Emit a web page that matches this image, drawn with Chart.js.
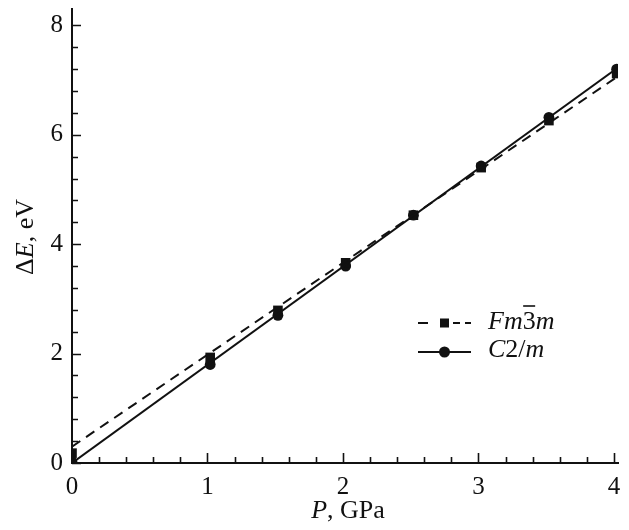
<!DOCTYPE html>
<html>
<head>
<meta charset="utf-8">
<script src="https://cdn.jsdelivr.net/npm/chart.js@4"></script>
<style>
  html, body { margin: 0; padding: 0; background: #fff; }
  #wrap { width: 629px; height: 530px; }
</style>
</head>
<body>
<div id="wrap"><canvas id="mycanvas" width="629" height="530"></canvas></div>
<script>
// pressure (GPa) and energy difference (eV)
var pressure = [0, 1.02, 1.52, 2.02, 2.52, 3.02, 3.52, 4.02];
var dE_Fm3m = [0.18, 1.93, 2.79, 3.66, 4.53, 5.40, 6.26, 7.12];
var dE_C2m = [0.02, 1.80, 2.70, 3.60, 4.53, 5.43, 6.32, 7.20];

// fitted straight lines (end points)
var fitP = [0, 4.03];
var fit_Fm3m = [0.30, 7.07];
var fit_C2m = [0, 7.23];

var xTicks = [0, 1, 2, 3, 4];
var yTicks = [0, 2, 4, 6, 8];

function pts(xs, ys) {
  var out = [];
  for (var i in xs) out.push({x: xs[i], y: ys[i]});
  return out;
}

var serif = "'Liberation Serif', 'Times New Roman', serif";

// inward ticks, axis titles and legend
var extras = {
  id: 'extras',
  afterDraw: function(chart) {
    var ctx = chart.ctx;
    var xs = chart.scales.x, ys = chart.scales.y;
    var area = chart.chartArea;
    ctx.save();
    ctx.strokeStyle = '#111';
    ctx.lineWidth = 1.6;
    ctx.beginPath();
    for (var i = 0; i <= 20; i++) {
      var v = i * 0.2;
      var px = Math.round(xs.getPixelForValue(v)) + 0.5;
      var len = (i % 5 === 0) ? 10 : 6;
      ctx.moveTo(px, area.bottom);
      ctx.lineTo(px, area.bottom - len);
    }
    for (var j = 0; j <= 20; j++) {
      var w = j * 0.4;
      var py = Math.round(ys.getPixelForValue(w)) + 0.5;
      var l2 = (j % 5 === 0) ? 9 : 6;
      ctx.moveTo(area.left, py);
      ctx.lineTo(area.left + l2, py);
    }
    ctx.stroke();

    ctx.fillStyle = '#111';
    ctx.textBaseline = 'alphabetic';

    // x title: P, GPa
    var f1 = 'italic 26px ' + serif, f2 = '26px ' + serif;
    ctx.font = f1; var wP = ctx.measureText('P').width;
    ctx.font = f2; var wR = ctx.measureText(', GPa').width;
    var sx = 348 - (wP + wR) / 2;
    ctx.font = f1; ctx.fillText('P', sx, 518);
    ctx.font = f2; ctx.fillText(', GPa', sx + wP, 518);

    // y title: ΔE, eV
    ctx.save();
    ctx.translate(33, 237);
    ctx.rotate(-Math.PI / 2);
    ctx.font = f2; var wD = ctx.measureText('\u0394').width;
    ctx.font = f1; var wE = ctx.measureText('E').width;
    ctx.font = f2; var wV = ctx.measureText(', eV').width;
    var tx = -(wD + wE + wV) / 2;
    ctx.font = f2; ctx.fillText('\u0394', tx, 0);
    ctx.font = f1; ctx.fillText('E', tx + wD, 0);
    ctx.font = f2; ctx.fillText(', eV', tx + wD + wE, 0);
    ctx.restore();

    // legend
    var lx0 = 418, lx1 = 471, ly1 = 323, ly2 = 352;
    ctx.lineWidth = 2;
    ctx.beginPath();
    ctx.moveTo(lx0, ly1); ctx.lineTo(lx0 + 10, ly1);
    ctx.moveTo(lx0 + 35, ly1); ctx.lineTo(lx0 + 42, ly1);
    ctx.moveTo(lx0 + 47, ly1); ctx.lineTo(lx1, ly1);
    ctx.moveTo(lx0, ly2); ctx.lineTo(lx1, ly2);
    ctx.stroke();
    ctx.fillRect(440, ly1 - 4.5, 9, 9);
    ctx.beginPath();
    ctx.arc(444.5, ly2, 5.5, 0, Math.PI * 2);
    ctx.fill();

    var tx0 = 488;
    ctx.font = f1; ctx.fillText('Fm', tx0, ly1 + 6);
    var a = ctx.measureText('Fm').width;
    ctx.font = f2; ctx.fillText('3', tx0 + a, ly1 + 6);
    var b = ctx.measureText('3').width;
    ctx.lineWidth = 1.6;
    ctx.beginPath();
    ctx.moveTo(tx0 + a + 0.5, ly1 - 17);
    ctx.lineTo(tx0 + a + b - 0.5, ly1 - 17);
    ctx.stroke();
    ctx.font = f1; ctx.fillText('m', tx0 + a + b, ly1 + 6);

    ctx.font = f1; ctx.fillText('C', tx0, ly2 + 5);
    var c = ctx.measureText('C').width;
    ctx.font = f2; ctx.fillText('2/', tx0 + c, ly2 + 5);
    var d = ctx.measureText('2/').width;
    ctx.font = f1; ctx.fillText('m', tx0 + c + d, ly2 + 5);
    ctx.restore();
  }
};

var ctx = document.getElementById('mycanvas');

var chart = new Chart(ctx, {
  type: 'scatter',
  data: {
    datasets: [
      {
        label: 'Fm-3m fit',
        data: pts(fitP, fit_Fm3m),
        showLine: true,
        borderColor: '#111',
        borderWidth: 2,
        borderDash: [10, 7],
        pointRadius: 0
      },
      {
        label: 'C2/m fit',
        data: pts(fitP, fit_C2m),
        showLine: true,
        borderColor: '#111',
        borderWidth: 2,
        pointRadius: 0
      },
      {
        label: 'Fm-3m',
        data: pts(pressure, dE_Fm3m),
        showLine: false,
        pointStyle: 'rect',
        pointRadius: 6.8,
        backgroundColor: '#111',
        borderColor: '#111',
        borderWidth: 0
      },
      {
        label: 'C2/m',
        data: pts(pressure, dE_C2m),
        showLine: false,
        pointStyle: 'circle',
        pointRadius: 5.4,
        backgroundColor: '#111',
        borderColor: '#111',
        borderWidth: 0
      }
    ]
  },
  options: {
    responsive: false,
    animation: false,
    layout: { padding: { top: 9, right: 11, left: 0, bottom: 0 } },
    plugins: { legend: { display: false }, tooltip: { enabled: false } },
    scales: {
      x: {
        type: 'linear',
        min: 0,
        max: 4.03,
        afterFit: function(s) { s.height = 67; s.paddingLeft = 0; s.paddingRight = 0; },
        grid: { display: true, drawOnChartArea: false, drawTicks: false },
        border: { display: true, color: '#111', width: 2 },
        ticks: {
          stepSize: 1,
          includeBounds: false,
          padding: 9,
          color: '#111',
          font: { family: serif, size: 25 },
          callback: function(v) { return xTicks.indexOf(v) >= 0 ? String(v) : ''; }
        }
      },
      y: {
        type: 'linear',
        min: 0,
        max: 8.3,
        afterFit: function(s) { s.width = 72; s.paddingTop = 0; s.paddingBottom = 0; },
        grid: { display: true, drawOnChartArea: false, drawTicks: false },
        border: { display: true, color: '#111', width: 2 },
        ticks: {
          stepSize: 2,
          includeBounds: false,
          padding: 9,
          color: '#111',
          font: { family: serif, size: 25 },
          callback: function(v) { return yTicks.indexOf(v) >= 0 ? String(v) : ''; }
        }
      }
    }
  },
  plugins: [extras]
});
</script>
</body>
</html>
